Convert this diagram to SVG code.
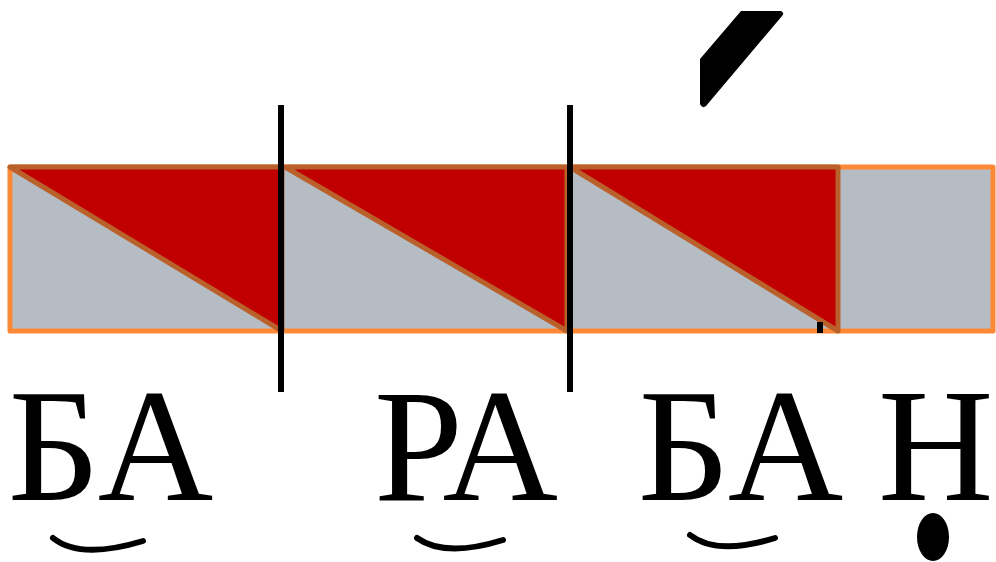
<svg xmlns="http://www.w3.org/2000/svg" width="996" height="562" viewBox="0 0 996 562">
<style>
.bg{fill:#b6bcc4;stroke:#fd8836;stroke-width:5;stroke-linejoin:round}
.tri{fill:#c00000;stroke:#b9602b;stroke-width:5;stroke-linejoin:round}
.div{stroke:#000;stroke-width:6}
.lbl{font-size:160px;fill:#000}
.arc{fill:none;stroke:#000;stroke-width:6;stroke-linecap:round}
</style>
<g id="bar">
<rect class="bg" x="10" y="167" width="983" height="164"/>
<polygon class="tri" points="10,167 282,167 282,331"/>
<polygon class="tri" points="285,167 567,167 567,331"/>
<polygon class="tri" points="570,167 838,167 838,331"/>
<rect x="817" y="322" width="6" height="11" fill="#000"/>
</g>
<g id="dividers">
<line class="div" x1="281" y1="105" x2="281" y2="392"/>
<line class="div" x1="570" y1="105" x2="570" y2="392"/>
</g>
<g id="accent">
<path d="M741,11 L781,11 Q785,13 782,16 L706,106 Q702,109 700,104 L700,59 Z" fill="#000"/>
</g>
<g id="labels" font-family="Liberation Serif, Tinos, Times New Roman, serif">
<text class="lbl" x="8" y="500">БА</text>
<text class="lbl" x="374" y="500">РА</text>
<text class="lbl" x="638" y="500">БА</text>
<text class="lbl" x="878" y="500">Н</text>
</g>
<g id="marks">
<path class="arc" d="M53,538 Q80,560 143,541"/>
<path class="arc" d="M417,538 Q445,558 503,540"/>
<path class="arc" d="M690,535 Q717,556 775,538"/>
<ellipse cx="933" cy="537" rx="16" ry="24" fill="#000"/>
</g>
</svg>
